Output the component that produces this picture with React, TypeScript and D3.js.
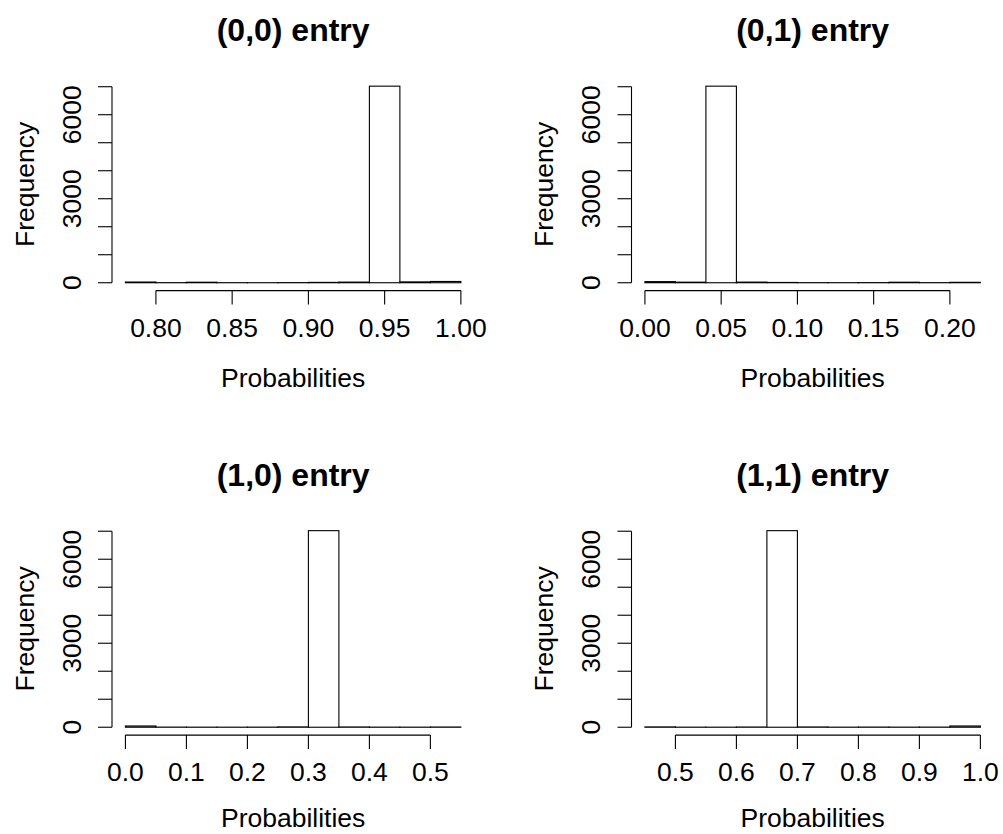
import { useEffect, useRef } from 'react';
import * as d3 from 'd3';

// bin edges and counts
const titles = ['(0,0) entry', '(0,1) entry', '(1,0) entry', '(1,1) entry'];

const breaks00 = [0.78, 0.80, 0.82, 0.84, 0.86, 0.88, 0.90, 0.92, 0.94, 0.96, 0.98, 1.00];
const counts00 = [25, 3, 18, 2, 1, 4, 12, 22, 7020, 30, 45];

const breaks01 = [0.00, 0.02, 0.04, 0.06, 0.08, 0.10, 0.12, 0.14, 0.16, 0.18, 0.20, 0.22];
const counts01 = [40, 20, 7020, 22, 10, 3, 2, 4, 18, 3, 15];

const breaks10 = [0.00, 0.05, 0.10, 0.15, 0.20, 0.25, 0.30, 0.35, 0.40, 0.45, 0.50, 0.55];
const counts10 = [45, 5, 3, 2, 4, 12, 7020, 10, 4, 3, 8];

const breaks11 = [0.45, 0.50, 0.55, 0.60, 0.65, 0.70, 0.75, 0.80, 0.85, 0.90, 0.95, 1.00];
const counts11 = [12, 3, 2, 8, 7020, 10, 3, 6, 4, 5, 45];

const xTicks00 = [0.80, 0.85, 0.90, 0.95, 1.00];
const xTicks01 = [0.00, 0.05, 0.10, 0.15, 0.20];
const xTicks10 = [0.0, 0.1, 0.2, 0.3, 0.4, 0.5];
const xTicks11 = [0.5, 0.6, 0.7, 0.8, 0.9, 1.0];

const yTicks = [0, 1000, 2000, 3000, 4000, 5000, 6000, 7000];
const yTickLabels = ['0', '', '', '3000', '', '', '6000', ''];

const xLabel = 'Probabilities';
const yLabel = 'Frequency';

const W = 1003;
const H = 834;
const FONT = '"Liberation Sans", Arial, Helvetica, sans-serif';

const App = () => {
    const svgRef = useRef<SVGSVGElement | null>(null);

    useEffect(() => {
        const svg = d3.select(svgRef.current);
        svg.selectAll('*').remove();

        const panels = [
            { title: titles[0], breaks: breaks00, counts: counts00, ticks: xTicks00, digits: 2, left: 112, top: 78.3 },
            { title: titles[1], breaks: breaks01, counts: counts01, ticks: xTicks01, digits: 2, left: 631.5, top: 78.3 },
            { title: titles[2], breaks: breaks10, counts: counts10, ticks: xTicks10, digits: 1, left: 112, top: 522.8 },
            { title: titles[3], breaks: breaks11, counts: counts11, ticks: xTicks11, digits: 1, left: 631.5, top: 522.8 },
        ];

        const plotW = 362.3;
        const plotH = 212.3;
        const tick = 14;
        const fs = '26.5px';

        panels.forEach(p => {
            const g = svg.append('g');
            const x0 = p.breaks[0];
            const x1 = p.breaks[p.breaks.length - 1];
            const xPad = (x1 - x0) * 0.04;
            const yMax = d3.max(p.counts) as number;

            // R style 4% axis extension
            const x = d3.scaleLinear()
                .domain([x0 - xPad, x1 + xPad])
                .range([p.left, p.left + plotW]);
            const y = d3.scaleLinear()
                .domain([-0.04 * yMax, 1.04 * yMax])
                .range([p.top + plotH, p.top]);

            const bins = p.counts.map((c, i) => ({ a: p.breaks[i], b: p.breaks[i + 1], c }));

            g.selectAll('.bar')
                .data(bins)
                .enter()
                .append('rect')
                .attr('x', d => x(d.a))
                .attr('y', d => y(d.c))
                .attr('width', d => x(d.b) - x(d.a))
                .attr('height', d => y(0) - y(d.c))
                .attr('fill', 'white')
                .attr('stroke', 'black')
                .attr('stroke-width', 1.1);

            // x axis
            const axY = p.top + plotH;
            g.append('line')
                .attr('x1', x(p.ticks[0])).attr('x2', x(p.ticks[p.ticks.length - 1]))
                .attr('y1', axY).attr('y2', axY)
                .attr('stroke', 'black').attr('stroke-width', 1.1);
            p.ticks.forEach(t => {
                g.append('line')
                    .attr('x1', x(t)).attr('x2', x(t))
                    .attr('y1', axY).attr('y2', axY + tick)
                    .attr('stroke', 'black').attr('stroke-width', 1.1);
                g.append('text')
                    .attr('x', x(t))
                    .attr('y', axY + 46)
                    .attr('text-anchor', 'middle')
                    .style('font-family', FONT)
                    .style('font-size', fs)
                    .text(t.toFixed(p.digits));
            });

            // y axis
            const axX = p.left;
            g.append('line')
                .attr('x1', axX).attr('x2', axX)
                .attr('y1', y(yTicks[0])).attr('y2', y(yTicks[yTicks.length - 1]))
                .attr('stroke', 'black').attr('stroke-width', 1.1);
            yTicks.forEach((t, i) => {
                g.append('line')
                    .attr('x1', axX - tick).attr('x2', axX)
                    .attr('y1', y(t)).attr('y2', y(t))
                    .attr('stroke', 'black').attr('stroke-width', 1.1);
                if (yTickLabels[i]) {
                    g.append('text')
                        .attr('transform', `translate(${axX - 31.5},${y(t)}) rotate(-90)`)
                        .attr('text-anchor', 'middle')
                        .style('font-family', FONT)
                        .style('font-size', fs)
                        .text(yTickLabels[i]);
                }
            });

            // labels + title
            const cx = p.left + plotW / 2;
            const cy = p.top + plotH / 2;
            g.append('text')
                .attr('x', cx)
                .attr('y', Math.min(p.top + 96 + plotH, H - 7))
                .attr('text-anchor', 'middle')
                .style('font-family', FONT)
                .style('font-size', fs)
                .text(xLabel);
            g.append('text')
                .attr('transform', `translate(${axX - 78.5},${cy}) rotate(-90)`)
                .attr('text-anchor', 'middle')
                .style('font-family', FONT)
                .style('font-size', fs)
                .text(yLabel);
            g.append('text')
                .attr('x', cx)
                .attr('y', p.top - 37)
                .attr('text-anchor', 'middle')
                .style('font-family', FONT)
                .style('font-size', '32px')
                .style('font-weight', 'bold')
                .text(p.title);
        });
    }, []);

    return (
        <div style={{ position: 'absolute', left: 0, top: 0, background: 'white' }}>
            <svg ref={svgRef} width={W} height={H} style={{ display: 'block' }} />
        </div>
    );
};

export default App;
